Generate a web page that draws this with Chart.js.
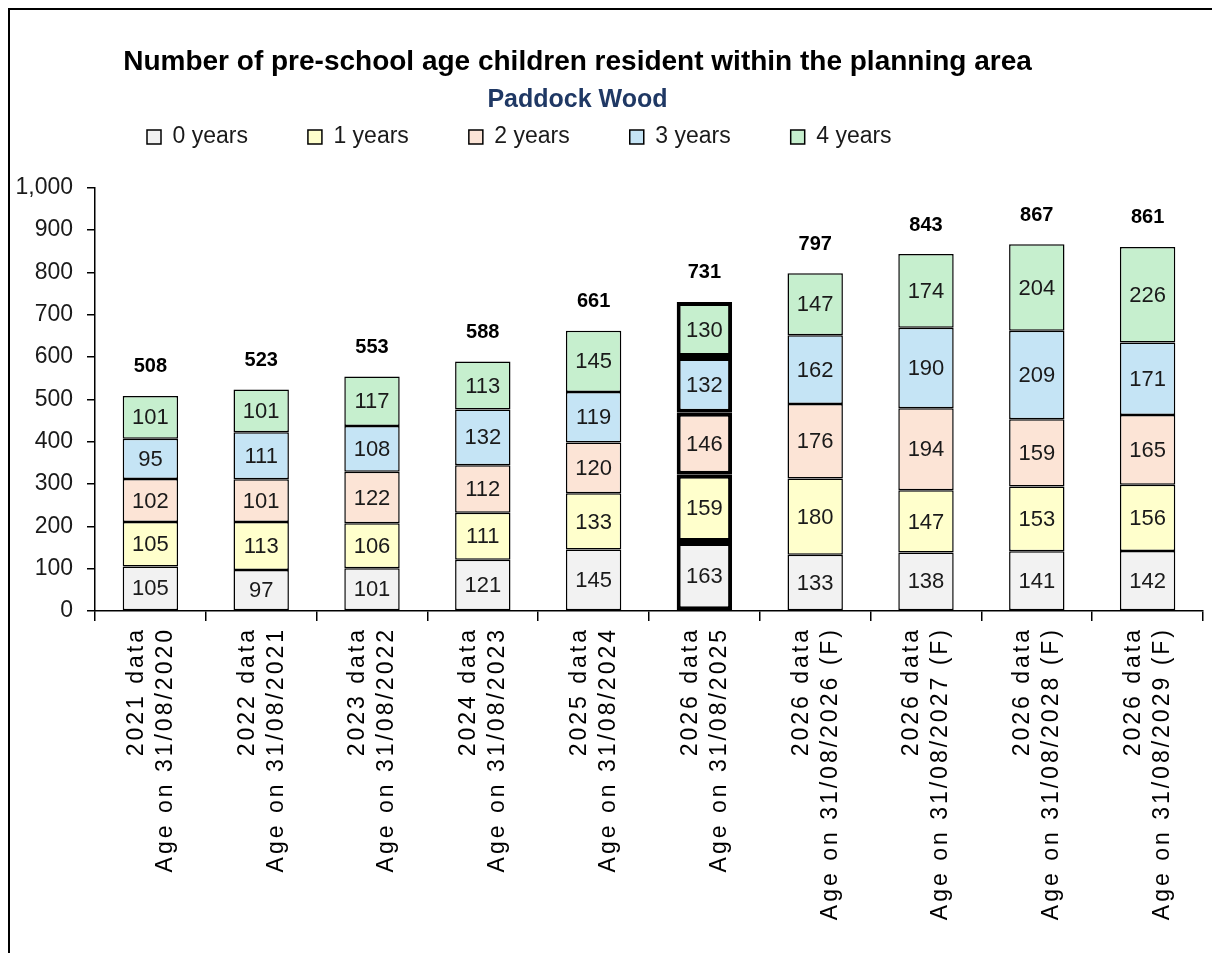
<!DOCTYPE html>
<html>
<head>
<meta charset="utf-8">
<title>Pre-school age children - Paddock Wood</title>
<script src="https://cdn.jsdelivr.net/npm/chart.js@4.4.1/dist/chart.umd.min.js"></script>
<style>
  body { margin: 0; background: #fff; }
  #frame { position: absolute; left: 8px; top: 8px; width: 1300px; height: 1000px; border: 2px solid #000; }
  #wrap { position: absolute; left: 0; top: 0; width: 1212px; height: 953px; }
</style>
</head>
<body>
<div id="frame"></div>
<div id="wrap"><canvas id="myChart"></canvas></div>
<script>
// Categories (two lines each, drawn rotated)
const categories = [
  ['2021 data', 'Age on 31/08/2020'],
  ['2022 data', 'Age on 31/08/2021'],
  ['2023 data', 'Age on 31/08/2022'],
  ['2024 data', 'Age on 31/08/2023'],
  ['2025 data', 'Age on 31/08/2024'],
  ['2026 data', 'Age on 31/08/2025'],
  ['2026 data', 'Age on 31/08/2026 (F)'],
  ['2026 data', 'Age on 31/08/2027 (F)'],
  ['2026 data', 'Age on 31/08/2028 (F)'],
  ['2026 data', 'Age on 31/08/2029 (F)'],
];

// Children by age, one list per age group
const age0 = [105, 97, 101, 121, 145, 163, 133, 138, 141, 142];
const age1 = [105, 113, 106, 111, 133, 159, 180, 147, 153, 156];
const age2 = [102, 101, 122, 112, 120, 146, 176, 194, 159, 165];
const age3 = [95, 111, 108, 132, 119, 132, 162, 190, 209, 171];
const age4 = [101, 101, 117, 113, 145, 130, 147, 174, 204, 226];

// Totals as printed above the bars
const totals = [508, 523, 553, 588, 661, 731, 797, 843, 867, 861];

const seriesNames = ['0 years', '1 years', '2 years', '3 years', '4 years'];
const yTicks = [0, 1000, 100]; // min, max, step

// The current year bar gets a heavy outline
const highlightIndex = 5;

const fontFamily = '"Liberation Sans", Arial, sans-serif';

// Category axis that draws its labels with extra letter spacing,
// and centres the two rotated lines on the tick
class SpacedCategoryScale extends Chart.CategoryScale {
  drawLabels(chartArea) {
    const ctx = this.ctx;
    ctx.save();
    ctx.letterSpacing = '3px';
    ctx.translate(-14, 0);
    super.drawLabels(chartArea);
    ctx.restore();
  }
}
SpacedCategoryScale.id = 'spacedCategory';
SpacedCategoryScale.defaults = Chart.CategoryScale.defaults;
Chart.register(SpacedCategoryScale);

// Values inside each segment and totals above each bar
const barLabels = {
  id: 'barLabels',
  afterDatasetsDraw(chart) {
    const ctx = chart.ctx;
    ctx.save();
    ctx.textAlign = 'center';
    ctx.textBaseline = 'middle';
    ctx.font = '22px ' + fontFamily;
    ctx.fillStyle = '#1a1a1a';
    chart.data.datasets.forEach((ds, i) => {
      chart.getDatasetMeta(i).data.forEach((bar, j) => {
        ctx.fillText(ds.data[j], bar.x, (bar.y + bar.base) / 2 + 1);
      });
    });
    const topBars = chart.getDatasetMeta(chart.data.datasets.length - 1).data;
    ctx.font = 'bold 20px ' + fontFamily;
    ctx.fillStyle = '#000';
    topBars.forEach((bar, j) => {
      ctx.fillText(totals[j].toLocaleString('en-GB'), bar.x, bar.y - 29);
    });
    ctx.restore();
  },
};

// Header nudges: the titles sit a little left of centre in the original,
// and the legend row is padded by its item spacing, so lift it under the subtitle
const headerShift = {
  id: 'headerShift',
  afterLayout(chart) {
    chart.boxes.forEach((box) => {
      if (box.position === 'top' && box.options && box.options.text !== undefined) {
        box.left -= 30;
        box.right -= 30;
      }
    });
    chart.legend.top -= 56;
    chart.legend.left -= 8;
  },
};

const colors = ['#f2f2f2', '#ffffcc', '#fce4d6', '#c5e4f5', '#c6efce'];
const seriesData = [age0, age1, age2, age3, age4];

const ctx = document.getElementById('myChart');

new Chart(ctx, {
  type: 'bar',
  data: {
    labels: categories,
    datasets: seriesData.map((values, i) => ({
      label: seriesNames[i],
      data: values,
      backgroundColor: colors[i],
      borderColor: '#000',
      borderWidth: (c) => (c.dataIndex === highlightIndex ? 4 : 1.5),
      borderSkipped: false,
      barPercentage: 0.5,
      categoryPercentage: 1,
    })),
  },
  options: {
    responsive: true,
    maintainAspectRatio: false,
    animation: false,
    layout: { padding: { top: 8, left: 10, right: 7, bottom: 0 } },
    plugins: {
      title: {
        display: true,
        text: 'Number of pre-school age children resident within the planning area',
        color: '#000',
        font: { family: fontFamily, size: 28, weight: 'bold' },
        padding: { top: 37, bottom: 4 },
      },
      subtitle: {
        display: true,
        text: 'Paddock Wood',
        color: '#1f3864',
        font: { family: fontFamily, size: 25, weight: 'bold' },
        padding: { top: 3, bottom: 6 },
      },
      legend: {
        position: 'top',
        align: 'start',
        fullSize: false,
        maxHeight: 66,
        labels: {
          boxWidth: 14,
          boxHeight: 14,
          padding: 60,
          color: '#1a1a1a',
          font: { family: fontFamily, size: 23 },
        },
      },
      tooltip: { enabled: false },
    },
    scales: {
      x: {
        type: 'spacedCategory',
        stacked: true,
        grid: { display: true, drawOnChartArea: false, tickLength: 10, color: '#000', lineWidth: 1.5 },
        border: { display: true, color: '#000', width: 1.5 },
        ticks: {
          color: '#000',
          font: { family: fontFamily, size: 23, lineHeight: 1.26 },
          minRotation: 90,
          maxRotation: 90,
          autoSkip: false,
          padding: 6,
        },
        afterFit(scale) {
          scale.height = 342;
        },
      },
      y: {
        stacked: true,
        min: yTicks[0],
        max: yTicks[1],
        grid: { display: true, drawOnChartArea: false, tickLength: 8, color: '#000', lineWidth: 1.5 },
        border: { display: true, color: '#000', width: 1.5 },
        ticks: {
          stepSize: yTicks[2],
          color: '#1a1a1a',
          font: { family: fontFamily, size: 23 },
          padding: 14,
        },
        afterFit(scale) {
          scale.width = 85;
        },
      },
    },
  },
  plugins: [barLabels, headerShift],
});
</script>
</body>
</html>
